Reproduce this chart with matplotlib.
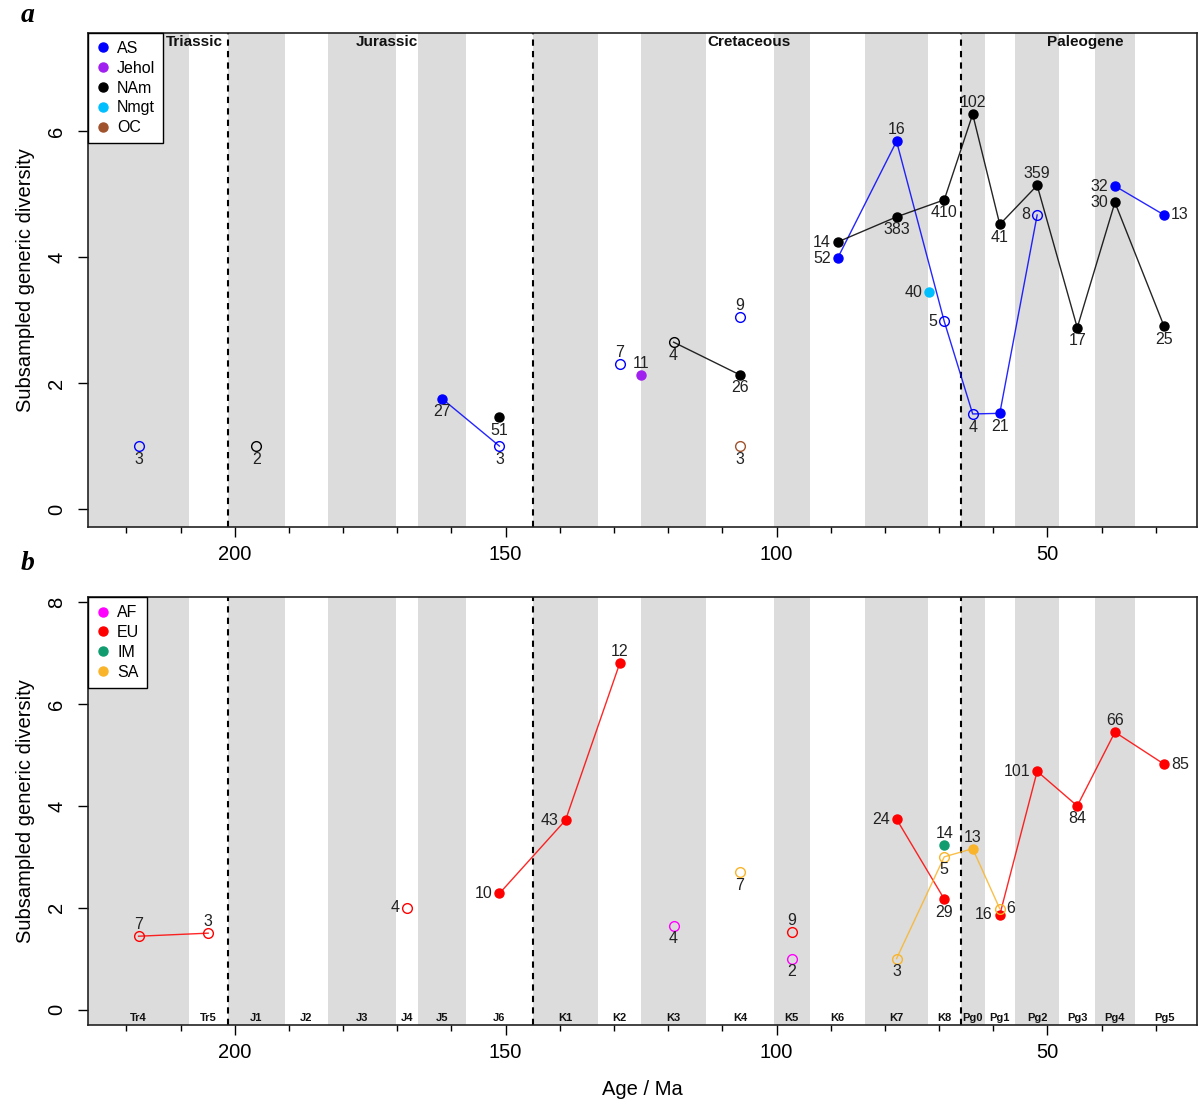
import numpy as np
import matplotlib.pyplot as plt
from matplotlib.lines import Line2D
from matplotlib.transforms import blended_transform_factory

plt.rcParams['font.family'] = ['Liberation Sans', 'DejaVu Sans']

# time scale (stage bins)
stages = ["Tr4", "Tr5", "J1", "J2", "J3", "J4", "J5", "J6", "K1", "K2", "K3",
          "K4", "K5", "K6", "K7", "K8", "Pg0", "Pg1", "Pg2", "Pg3", "Pg4", "Pg5"]
stage_base = [227.0, 208.5, 201.3, 190.8, 182.7, 170.3, 166.1, 157.3, 145.0, 132.9, 125.0,
              113.0, 100.5, 93.9, 83.6, 72.1, 66.0, 61.6, 56.0, 47.8, 41.2, 33.9]
stage_top = stage_base[1:] + [23.03]
mid = {s: (b + t) / 2 for s, b, t in zip(stages, stage_base, stage_top)}

periods = ["Triassic", "Jurassic", "Cretaceous", "Paleogene"]
period_x = [207.5, 172.0, 105.0, 43.0]
period_bounds = [201.3, 145.0, 66.0]

# panel a
as_stage = ["Tr4", "J5", "J6", "K2", "K4", "K6", "K7", "K8", "Pg0", "Pg1", "Pg2", "Pg4", "Pg5"]
as_div = [1.0, 1.75, 1.0, 2.30, 3.05, 3.98, 5.84, 2.98, 1.51, 1.52, 4.67, 5.13, 4.67]
as_n = [3, 27, 3, 7, 9, 52, 16, 5, 4, 21, 8, 32, 13]

jehol_age = [125.0]
jehol_div = [2.13]
jehol_n = [11]

nam_stage = ["J1", "J6", "K3", "K4", "K6", "K7", "K8", "Pg0", "Pg1", "Pg2", "Pg3", "Pg4", "Pg5"]
nam_div = [1.0, 1.46, 2.65, 2.13, 4.24, 4.64, 4.91, 6.27, 4.52, 5.14, 2.88, 4.87, 2.90]
nam_n = [2, 51, 4, 26, 14, 383, 410, 102, 41, 359, 17, 30, 25]

nmgt_age = [71.8]
nmgt_div = [3.44]
nmgt_n = [40]

oc_stage = ["K4"]
oc_div = [1.0]
oc_n = [3]

# panel b
af_stage = ["K3", "K5"]
af_div = [1.65, 1.0]
af_n = [4, 2]

eu_stage = ["Tr4", "Tr5", "J4", "J6", "K1", "K2", "K5", "K7", "K8", "Pg1", "Pg2", "Pg3", "Pg4", "Pg5"]
eu_div = [1.44, 1.50, 2.0, 2.28, 3.72, 6.80, 1.52, 3.74, 2.17, 1.86, 4.68, 4.00, 5.45, 4.82]
eu_n = [7, 3, 4, 10, 43, 12, 9, 24, 29, 16, 101, 84, 66, 85]

im_stage = ["K8"]
im_div = [3.23]
im_n = [14]

sa_stage = ["K4", "K7", "K8", "Pg0", "Pg1"]
sa_div = [2.70, 1.0, 3.0, 3.16, 1.98]
sa_n = [7, 3, 5, 13, 6]

# where each count label goes (b=below, t=above, l=left, r=right)
as_pos = ["b", "b", "b", "t", "t", "l", "t", "l", "b", "b", "l", "l", "r"]
nam_pos = ["b", "b", "b", "b", "l", "b", "b", "t", "b", "t", "b", "l", "b"]
eu_pos = ["t", "t", "l", "l", "l", "t", "t", "l", "b", "l", "l", "b", "t", "r"]
sa_pos = ["b", "b", "b", "t", "r"]

offs = {"b": ((0, -4), "center", "top"), "t": ((0, 3), "center", "bottom"),
        "l": ((-5, 0), "right", "center"), "r": ((5, 0), "left", "center")}


def draw_series(ax, x, y, n, pos, col, idx=None):
    # lines only between neighbouring stages
    if idx is not None:
        run = [0]
        for i in range(1, len(x) + 1):
            if i < len(x) and idx[i] == idx[i - 1] + 1:
                run.append(i)
            else:
                if len(run) > 1:
                    ax.plot([x[j] for j in run], [y[j] for j in run], color=col,
                            lw=1.0, alpha=0.85, zorder=3)
                run = [i]
    for xi, yi, ni, p in zip(x, y, n, pos):
        if ni >= 10:
            ax.plot(xi, yi, "o", color=col, ms=6.5, zorder=4)
        else:
            ax.plot(xi, yi, "o", mfc="none", mec=col, mew=1.0, ms=7, zorder=4)
        o, ha, va = offs[p]
        ax.annotate(str(ni), (xi, yi), xytext=o, textcoords="offset points",
                    ha=ha, va=va, fontsize=11.5, color="#222222", zorder=5)


def stage_series(ax, st, y, n, pos, col):
    x = [mid[s] for s in st]
    idx = [stages.index(s) for s in st]
    draw_series(ax, x, y, n, pos, col, idx)


def setup(ax, ylim, yticks):
    for i, (b, t) in enumerate(zip(stage_base, stage_top)):
        if i % 2 == 0:
            ax.axvspan(b + (10 if i == 0 else 0), t, color="#DCDCDC", lw=0, zorder=0)
    for b in period_bounds:
        ax.axvline(b, color="black", lw=1.5, ls=(0, (3, 2.5)), zorder=2)
    ax.set_xlim(227.0, 22.4)
    ax.set_ylim(*ylim)
    ax.set_xticks([200, 150, 100, 50])
    ax.set_xticks(np.arange(220, 29, -10), minor=True)
    ax.set_yticks(yticks)
    ax.tick_params(axis="x", which="major", length=7, width=1, labelsize=14.5, pad=6)
    ax.tick_params(axis="x", which="minor", length=4.5, width=1)
    ax.tick_params(axis="y", length=7, width=1, labelsize=14.5, pad=9, labelrotation=90)
    for lab in ax.get_yticklabels():
        lab.set_va("center")
    for sp in ax.spines.values():
        sp.set_linewidth(1.2)
        sp.set_color("#222222")
    ax.set_ylabel("Subsampled generic diversity", fontsize=14.5, labelpad=9)


fig = plt.figure(figsize=(12, 11.04), dpi=100)
ax1 = fig.add_axes([0.0737, 0.5226, 0.9238, 0.4475])
ax2 = fig.add_axes([0.0737, 0.0713, 0.9238, 0.3877])

setup(ax1, (-0.286, 7.56), [0, 2, 4, 6])
setup(ax2, (-0.31, 8.1), [0, 2, 4, 6, 8])

stage_series(ax1, as_stage, as_div, as_n, as_pos, "#0000FF")
stage_series(ax1, nam_stage, nam_div, nam_n, nam_pos, "black")
stage_series(ax1, oc_stage, oc_div, oc_n, ["b"], "#A0522D")
draw_series(ax1, jehol_age, jehol_div, jehol_n, ["t"], "#A020F0")
draw_series(ax1, nmgt_age, nmgt_div, nmgt_n, ["l"], "#00BFFF")

stage_series(ax2, af_stage, af_div, af_n, ["b", "b"], "#FF00FF")
stage_series(ax2, eu_stage, eu_div, eu_n, eu_pos, "#FF0000")
stage_series(ax2, im_stage, im_div, im_n, ["t"], "#109C6E")
stage_series(ax2, sa_stage, sa_div, sa_n, sa_pos, "#F9B42A")

tr1 = blended_transform_factory(ax1.transData, ax1.transAxes)
for name, px in zip(periods, period_x):
    ax1.text(px, 0.981, name, transform=tr1, ha="center", va="center",
             fontsize=11, fontweight="bold", color="#111111", zorder=5)

tr2 = blended_transform_factory(ax2.transData, ax2.transAxes)
for s in stages:
    ax2.text(mid[s], 0.006, s, transform=tr2, ha="center", va="bottom",
             fontsize=8, fontweight="bold", color="#111111", zorder=5)


def legend(ax, names, cols):
    h = [Line2D([], [], ls="none", marker="o", color=c, ms=6.5) for c in cols]
    lg = ax.legend(h, names, loc="upper left", bbox_to_anchor=(0, 1), borderaxespad=0,
                   fontsize=11.5, handlelength=0.8, handletextpad=0.5, labelspacing=0.3,
                   borderpad=0.5, fancybox=False, framealpha=1, edgecolor="black")
    lg.get_frame().set_linewidth(1.0)
    lg.set_zorder(6)


legend(ax1, ["AS", "Jehol", "NAm", "Nmgt", "OC"],
       ["#0000FF", "#A020F0", "black", "#00BFFF", "#A0522D"])
legend(ax2, ["AF", "EU", "IM", "SA"], ["#FF00FF", "#FF0000", "#109C6E", "#F9B42A"])

ax2.set_xlabel("Age / Ma", fontsize=14.5, labelpad=13)

fig.text(0.017, 0.986, "a", fontsize=20, fontweight="bold", style="italic",
         family=["Liberation Serif", "DejaVu Serif"], va="center")
fig.text(0.017, 0.490, "b", fontsize=20, fontweight="bold", style="italic",
         family=["Liberation Serif", "DejaVu Serif"], va="center")

fig.savefig("out.png", dpi=100)
